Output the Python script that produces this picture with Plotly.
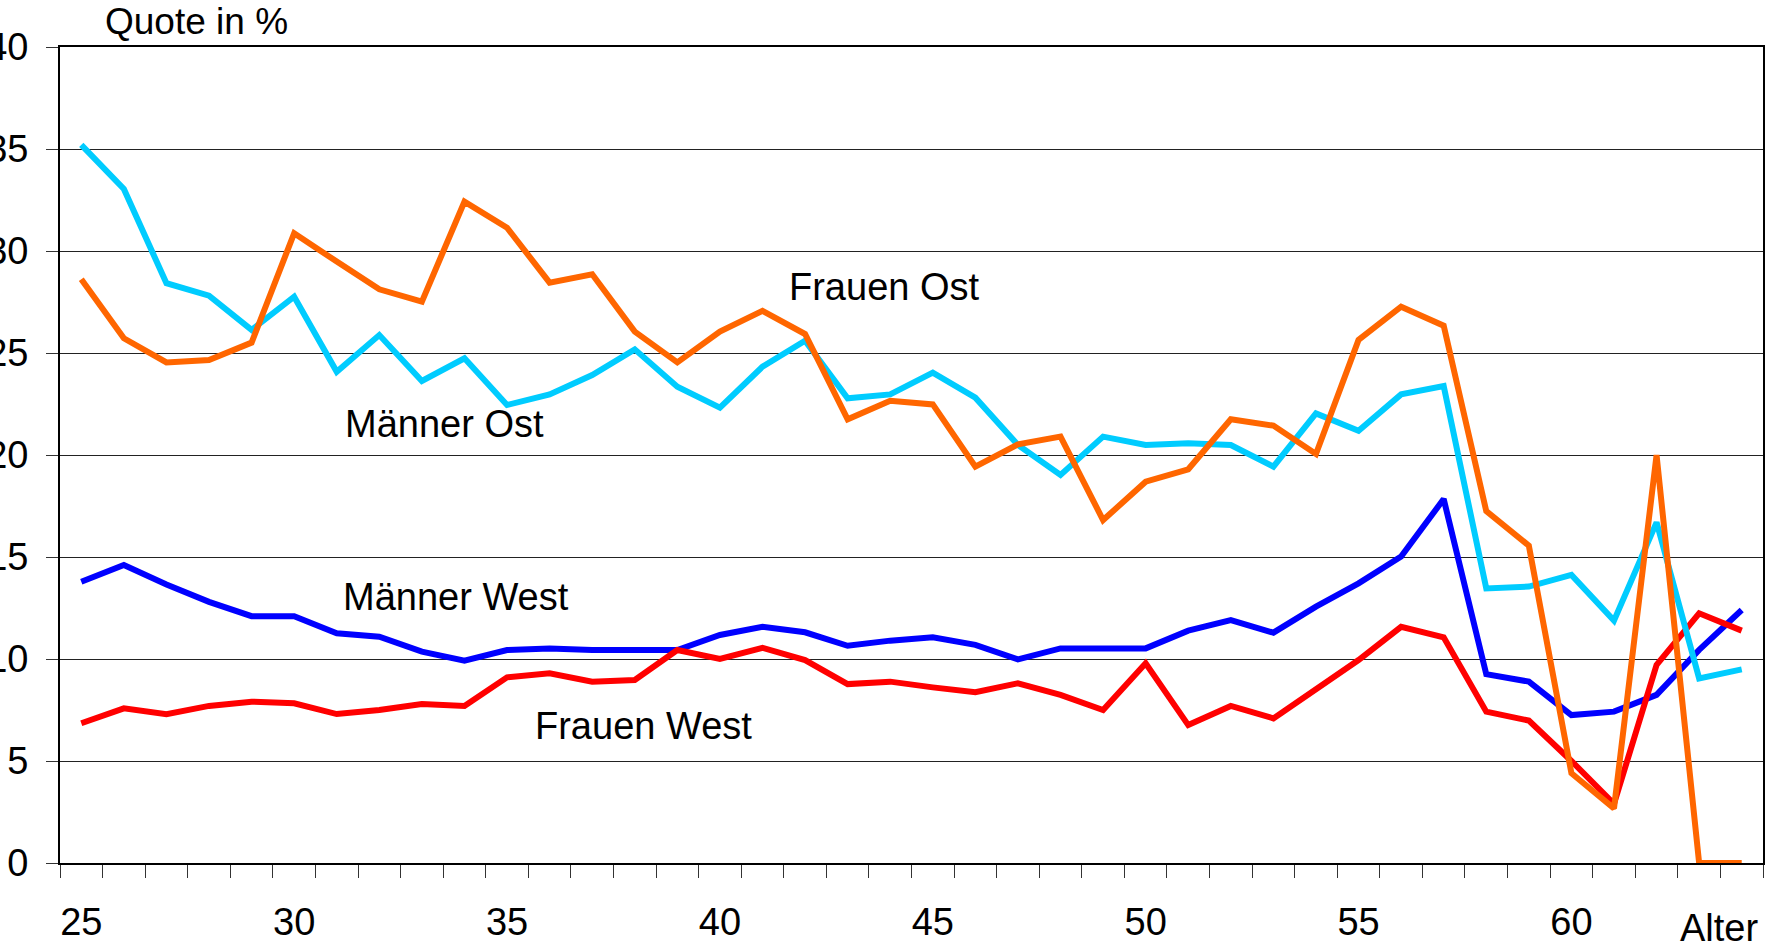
import plotly.graph_objects as go

ages = list(range(25, 65))

maenner_ost = [35.2, 33.04, 28.42, 27.81, 26.13, 27.76, 24.08, 25.88, 23.63, 24.74,
               22.45, 22.97, 23.92, 25.18, 23.35, 22.32, 24.33, 25.60, 22.78, 22.97,
               24.04, 22.81, 20.49, 19.02, 20.90, 20.49, 20.57, 20.49, 19.43,
               22.04, 21.19, 22.97, 23.38, 13.46, 13.55, 14.12, 11.88, 16.70, 9.05, 9.49]

frauen_ost = [28.61, 25.72, 24.54, 24.66, 25.51, 30.87, 29.48, 28.12, 27.52, 32.42,
              31.14, 28.45, 28.86, 26.05, 24.54, 26.05, 27.07, 25.93, 21.75, 22.66,
              22.48, 19.43, 20.52, 20.90, 16.81, 18.69, 19.30, 21.75, 21.44,
              20.05, 25.64, 27.27, 26.34, 17.25, 15.56, 4.40, 2.68, 20.0, 0.0, 0.0]

maenner_west = [13.79, 14.61, 13.65, 12.8, 12.1, 12.1, 11.26, 11.09, 10.36, 9.92,
                10.44, 10.52, 10.44, 10.44, 10.44, 11.18, 11.58, 11.31, 10.65, 10.90,
                11.06, 10.69, 9.98, 10.52, 10.52, 10.52, 11.39, 11.91, 11.29,
                12.57, 13.71, 15.02, 17.84, 9.26, 8.89, 7.25, 7.42, 8.24, 10.45, 12.40]

frauen_west = [6.85, 7.58, 7.29, 7.70, 7.91, 7.83, 7.30, 7.50, 7.79, 7.70,
               9.10, 9.30, 8.89, 8.97, 10.44, 10.0, 10.55, 9.95, 8.77, 8.89,
               8.61, 8.37, 8.81, 8.24, 7.50, 9.79, 6.76, 7.70, 7.09,
               8.5, 9.95, 11.58, 11.06, 7.42, 6.98, 5.0, 2.9, 9.71, 12.24, 11.39]

x_tick_vals = [25, 30, 35, 40, 45, 50, 55, 60]
y_tick_vals = [0, 5, 10, 15, 20, 25, 30, 35, 40]

FONT = "Liberation Sans, Arial, sans-serif"
FS = 38

fig = go.Figure()
series = [
    ("Männer West", maenner_west, "#0000FF"),
    ("Frauen West", frauen_west, "#FF0000"),
    ("Männer Ost", maenner_ost, "#00CCFF"),
    ("Frauen Ost", frauen_ost, "#FF6600"),
]
for name, vals, col in series:
    fig.add_trace(go.Scatter(x=ages, y=vals, mode="lines", name=name,
                             line=dict(color=col, width=6), showlegend=False))

fig.update_layout(
    width=1774, height=948,
    margin=dict(l=60, r=11, t=47, b=85, autoexpand=False),
    paper_bgcolor="white", plot_bgcolor="white",
    font=dict(family=FONT, size=FS, color="black"),
    xaxis=dict(range=[24.5, 64.5], tickvals=x_tick_vals, ticks="",
               showgrid=False, zeroline=False,
               showline=True, linecolor="black", linewidth=2, mirror=True,
               ticklabelstandoff=24,
               tickfont=dict(family=FONT, size=FS, color="black"),
               minor=dict(tick0=24.5, dtick=1, ticks="outside", ticklen=13,
                          tickwidth=1, tickcolor="#333333", showgrid=False)),
    yaxis=dict(range=[0, 40], tickvals=y_tick_vals, ticks="outside", ticklen=12,
               tickwidth=1, tickcolor="#333333",
               showgrid=True, gridcolor="#222222", gridwidth=1, zeroline=False,
               showline=True, linecolor="black", linewidth=2, mirror=True,
               ticklabelstandoff=10,
               tickfont=dict(family=FONT, size=FS, color="black")),
)

ann = [
    ("Frauen Ost", 41.57, 28.24),
    ("Männer Ost", 31.15, 21.52),
    ("Männer West", 31.09, 13.04),
    ("Frauen West", 35.60, 6.72),
]
for txt, ax_, ay_ in ann:
    fig.add_annotation(text=txt, x=ax_, y=ay_, xref="x", yref="y",
                       xanchor="left", yanchor="middle", showarrow=False,
                       font=dict(family=FONT, size=FS, color="black"))

fig.add_annotation(text="Quote in %", x=(103 - 60) / 1703, y=1 + (47 - 21) / 816,
                   xref="paper", yref="paper", xanchor="left", yanchor="middle",
                   showarrow=False, font=dict(family=FONT, size=37, color="black"))
fig.add_annotation(text="Alter", x=(1719 - 60) / 1703, y=(863 - 928) / 816,
                   xref="paper", yref="paper", xanchor="center", yanchor="middle",
                   showarrow=False, font=dict(family=FONT, size=FS, color="black"))

fig.write_html("out.html", config={"displayModeBar": False},
               post_script="document.body.style.margin='0';document.body.style.overflow='hidden';")
